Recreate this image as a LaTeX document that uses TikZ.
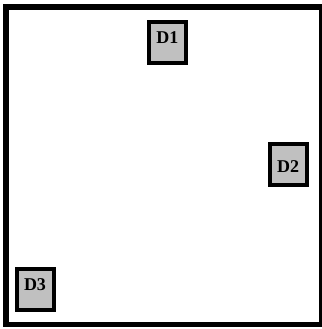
\documentclass[tikz,border=0pt]{standalone}
\usepackage{fontspec}
\setmainfont{Liberation Serif}
\begin{document}
\begin{tikzpicture}[x=1pt,y=-1pt,
  dbox/.style={draw=black,line width=4pt,fill={rgb,255:red,192;green,192;blue,192},
    minimum width=37pt,minimum height=41pt,inner sep=0pt},
  dtext/.style={inner sep=0pt,font=\fontsize{18}{18}\selectfont\bfseries}]
\useasboundingbox (0,0) rectangle (321,329);
\draw[line width=5.5pt] (6,7) rectangle (321.5,324.5);
\node[dbox,label={[dtext,yshift=5pt]center:D1}] (d1) at (167.3,42.5) {};
\node[dbox,label={[dtext,yshift=-2pt]center:D2}] (d2) at (288,164.5) {};
\node[dbox,label={[dtext,yshift=4.5pt]center:D3}] (d3) at (35,289.5) {};
\end{tikzpicture}
\end{document}
